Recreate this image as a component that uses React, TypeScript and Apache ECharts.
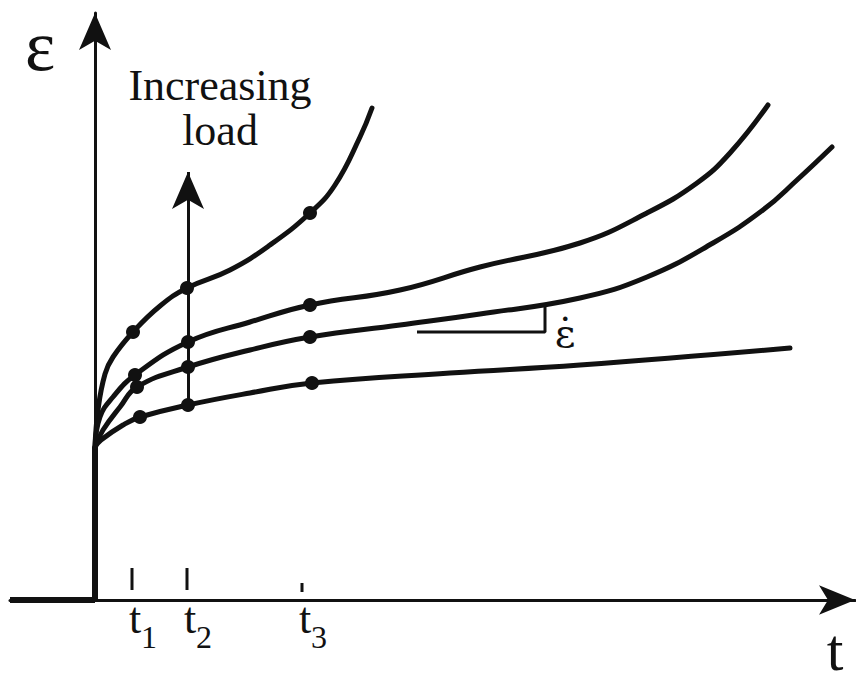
import { useEffect, useRef } from 'react';
import * as echarts from 'echarts';

// Units: time t and strain ε in arbitrary schematic units.
const tickValues = [3.7, 9.2, 20.7];
const tickSubscripts = ['1', '2', '3'];
const tickMarkTop = [3.2, 3.2, 1.7];
const tickMarkBottom = [1.0, 1.0, 0.8];

const curveHighLoad = [
  [0, 15.3], [0.3, 19], [1, 22.6], [1.8, 24.3], [3.8, 26.8], [6.5, 29.4], [9.2, 31.2],
  [13.5, 33], [17.5, 35.5], [21.5, 38.7], [24, 41.5], [26.5, 46.3], [27.7, 49.2],
];
const curveMidHighLoad = [
  [0, 15.3], [0.5, 18.3], [1.8, 20.3], [4, 22.5], [9.3, 25.8], [15.5, 27.8],
  [21.5, 29.5], [30.5, 31], [38.5, 33.3], [48.5, 35.7], [55.2, 38.7], [60.2, 41.7], [63.5, 44.7],
  [67.3, 49.5],
];
const curveMidLowLoad = [
  [0, 15.3], [0.8, 17], [2.5, 19.3], [4.2, 21.3], [9.3, 23.3], [15.5, 25], [21.5, 26.3],
  [30.5, 27.5], [38.5, 28.6], [48.5, 30.2], [55.2, 32.3], [61.8, 35.7], [66.8, 39],
  [70.2, 42], [73.7, 45.3],
];
const curveLowLoad = [
  [0, 15.3], [0.6, 16.0], [2.8, 17.5], [4.5, 18.3], [9.3, 19.5], [15.5, 20.7], [21.7, 21.7],
  [35.5, 22.7], [48.5, 23.5], [69.5, 25.2],
];
const markedPoints = [
  [3.8, 26.8], [9.2, 31.2], [21.5, 38.7],
  [4.0, 22.5], [9.3, 25.8], [21.5, 29.5],
  [4.2, 21.3], [9.3, 23.3], [21.5, 26.3],
  [4.5, 18.3], [9.3, 19.5], [21.7, 21.7],
];
const instantStrain = [[0, 0], [0, 15.3]];
const axisStub = [[-8.5, 0], [0, 0]];
const loadArrow = [[9.3, 19.5], [9.3, 42.8]];
const slopeTriangle = [[32.2, 26.8], [45, 26.8], [45, 29.3]];

const INK = '#111';
const SERIF = 'Liberation Serif';

const curve = (name: string, data: number[][]) => ({
  type: 'line',
  name,
  data,
  smooth: 0.45,
  showSymbol: false,
  symbol: 'none',
  silent: true,
  z: 3,
  lineStyle: { color: INK, width: 5, cap: 'round', join: 'round' },
});

const plainLine = (name: string, data: any[], width: number) => ({
  type: 'line',
  name,
  data,
  showSymbol: false,
  symbol: 'none',
  silent: true,
  z: 3,
  lineStyle: { color: INK, width, cap: 'butt' },
});

export default function App() {
  const ref = useRef<HTMLDivElement>(null);
  useEffect(() => {
    const chart = echarts.init(ref.current!, null, { renderer: 'svg' });
    const tickMarks: any[] = [];
    tickValues.forEach((v, i) => {
      if (i > 0) tickMarks.push('-');
      tickMarks.push([v, tickMarkBottom[i]], [v, tickMarkTop[i]]);
    });
    const textStyle = (size: number, family: string) => ({
      fontFamily: family, fontSize: size, fill: INK, align: 'center', verticalAlign: 'middle',
    });
    chart.setOption({
      animation: false,
      backgroundColor: '#fff',
      grid: { left: 10, right: 1, top: 13, bottom: 83 },
      xAxis: {
        type: 'value',
        min: -8.5,
        max: 76,
        axisLine: {
          show: true,
          onZero: true,
          symbol: ['none', 'arrow'],
          symbolSize: [22, 36],
          lineStyle: { color: INK, width: 3 },
        },
        axisTick: { show: false },
        axisLabel: { show: false },
        splitLine: { show: false },
      },
      yAxis: {
        type: 'value',
        min: 0,
        max: 58.7,
        axisLine: {
          show: true,
          onZero: true,
          symbol: ['none', 'arrow'],
          symbolSize: [24, 37],
          lineStyle: { color: INK, width: 3 },
        },
        axisTick: { show: false },
        axisLabel: { show: false },
        splitLine: { show: false },
      },
      graphic: [
        { type: 'text', x: 40, y: 46, style: { text: 'ε', ...textStyle(72, SERIF) } },
        { type: 'text', x: 835, y: 650, style: { text: 't', ...textStyle(60, SERIF) } },
        { type: 'text', x: 220, y: 85, style: { text: 'Increasing', ...textStyle(44, SERIF) } },
        { type: 'text', x: 220, y: 130, style: { text: 'load', ...textStyle(44, SERIF) } },
        { type: 'text', x: 565, y: 333, style: { text: 'ε\u0307', ...textStyle(40, 'DejaVu Serif') } },
      ],
      series: [
        plainLine('axisStub', axisStub, 6),
        plainLine('instantStrain', instantStrain, 6),
        curve('highLoad', curveHighLoad),
        curve('midHighLoad', curveMidHighLoad),
        curve('midLowLoad', curveMidLowLoad),
        curve('lowLoad', curveLowLoad),
        plainLine('slope', slopeTriangle, 3),
        plainLine('tickMarks', tickMarks, 3),
        {
          type: 'line',
          name: 'loadArrow',
          data: [],
          silent: true,
          markLine: {
            silent: true,
            animation: false,
            symbol: ['none', 'arrow'],
            symbolSize: [24, 37],
            label: { show: false },
            lineStyle: { color: INK, width: 3, type: 'solid' },
            data: [[{ coord: loadArrow[0] }, { coord: loadArrow[1] }]],
          },
        },
        {
          type: 'scatter',
          name: 'marked',
          data: markedPoints,
          symbolSize: 14,
          silent: true,
          z: 4,
          itemStyle: { color: INK, opacity: 1 },
        },
        {
          type: 'scatter',
          name: 'tickLabels',
          data: tickValues.map((v) => [v, 0]),
          symbolSize: 0,
          silent: true,
          clip: false,
          itemStyle: { opacity: 1 },
          label: {
            show: true, position: 'inside', formatter: 't', color: INK,
            fontFamily: SERIF, fontSize: 44, offset: [3, 18],
          },
        },
        {
          type: 'scatter',
          name: 'tickSubs',
          data: tickValues.map((v, i) => ({ value: [v, 0], name: tickSubscripts[i] })),
          symbolSize: 0,
          silent: true,
          clip: false,
          itemStyle: { opacity: 1 },
          label: {
            show: true, position: 'inside', formatter: '{b}', color: INK,
            fontFamily: SERIF, fontSize: 32, offset: [17, 37],
          },
        },
      ],
    });
    return () => chart.dispose();
  }, []);
  return (
    <div
      ref={ref}
      style={{ position: 'fixed', left: 0, top: 0, width: 856, height: 683, background: '#fff' }}
    />
  );
}
